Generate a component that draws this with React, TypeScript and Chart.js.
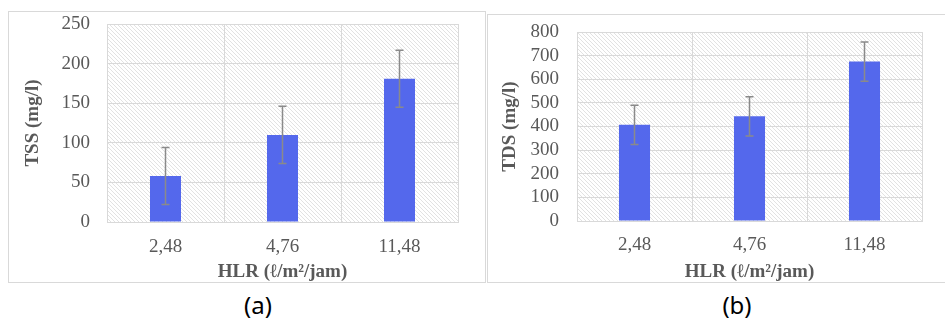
import React, { useEffect, useRef } from "react";
import { Chart, registerables } from "chart.js";

Chart.register(...registerables);

// Hydraulic loading rate categories
const categories = ["2,48", "4,76", "11,48"];

// Total suspended solids (mg/l) and their standard deviations
const tssValues = [58, 110, 181];
const tssErrors = [36, 36, 36];

// Total dissolved solids (mg/l) and their standard deviations
const tdsValues = [407, 443, 675];
const tdsErrors = [83, 83, 83];

const xTitle = "HLR (ℓ/m²/jam)";

const BAR_COLOR = "#5468EC";
const TEXT_COLOR = "#595959";
const GRID_COLOR = "#d9d9d9";
const SERIF = "'Liberation Serif', 'Times New Roman', serif";

// Fine diagonal hatching used as the plot-area fill
function makeHatch(ctx: CanvasRenderingContext2D): CanvasPattern | string {
  const tile = document.createElement("canvas");
  tile.width = 4;
  tile.height = 4;
  const t = tile.getContext("2d");
  if (!t) return "#f0f0f0";
  t.fillStyle = "#ffffff";
  t.fillRect(0, 0, 4, 4);
  t.strokeStyle = "#e2e2e2";
  t.lineWidth = 1;
  t.beginPath();
  t.moveTo(-1, -1);
  t.lineTo(5, 5);
  t.moveTo(-1, 3);
  t.lineTo(1, 5);
  t.moveTo(3, -1);
  t.lineTo(5, 1);
  t.stroke();
  return ctx.createPattern(tile, "repeat") || "#f0f0f0";
}

const hatchBackground = {
  id: "hatchBackground",
  beforeDraw(chart: any) {
    const { ctx, chartArea } = chart;
    if (!chartArea) return;
    ctx.save();
    ctx.fillStyle = makeHatch(ctx);
    ctx.fillRect(
      chartArea.left,
      chartArea.top,
      chartArea.right - chartArea.left,
      chartArea.bottom - chartArea.top
    );
    ctx.restore();
  },
};

// Vertical error bars with caps, drawn from each dataset's `errors` array
const errorBars = {
  id: "errorBars",
  afterDatasetsDraw(chart: any) {
    const { ctx } = chart;
    const yScale = chart.scales.y;
    chart.data.datasets.forEach((ds: any, i: number) => {
      const meta = chart.getDatasetMeta(i);
      const errs: number[] = ds.errors || [];
      meta.data.forEach((bar: any, j: number) => {
        const v = ds.data[j];
        const e = errs[j] || 0;
        const x = bar.x;
        const yTop = yScale.getPixelForValue(v + e);
        const yBot = yScale.getPixelForValue(v - e);
        ctx.save();
        ctx.strokeStyle = "#8a8a8a";
        ctx.lineWidth = 1.5;
        ctx.beginPath();
        ctx.moveTo(x, yTop);
        ctx.lineTo(x, yBot);
        ctx.moveTo(x - 4, yTop);
        ctx.lineTo(x + 4, yTop);
        ctx.moveTo(x - 4, yBot);
        ctx.lineTo(x + 4, yBot);
        ctx.stroke();
        ctx.restore();
      });
    });
  },
};

type PanelProps = {
  left: number;
  top: number;
  width: number;
  height: number;
  values: number[];
  errors: number[];
  yTitle: string;
  yMax: number;
  yStep: number;
  plotLeft: number;
  plotTop: number;
  plotRight: number;
  xAxisHeight: number;
  yTitleCenter: number;
  xTitleOffset: number;
  xTickPad: number;
  yTickPad: number;
  barFraction: number;
  border: string;
};

function Panel(p: PanelProps) {
  const ref = useRef<HTMLCanvasElement | null>(null);

  useEffect(() => {
    if (!ref.current) return;
    const tickFont = { family: SERIF, size: 19 };
    const titleFont = { family: SERIF, size: 19, weight: "bold" as const, lineHeight: 1.2 };
    const chart = new Chart(ref.current, {
      type: "bar",
      data: {
        labels: categories,
        datasets: [
          {
            data: p.values,
            errors: p.errors,
            backgroundColor: BAR_COLOR,
            borderWidth: 0,
            categoryPercentage: 1,
            barPercentage: p.barFraction,
          } as any,
        ],
      },
      options: {
        responsive: false,
        animation: false,
        devicePixelRatio: 1,
        layout: { padding: { left: 0, top: p.plotTop, right: p.width - p.plotRight, bottom: 0 } },
        plugins: {
          legend: { display: false },
          tooltip: { enabled: false },
        },
        scales: {
          x: {
            grid: { color: GRID_COLOR, drawTicks: false, offset: true },
            border: { color: GRID_COLOR },
            ticks: { color: TEXT_COLOR, font: tickFont, padding: p.xTickPad },
            title: {
              display: true,
              text: xTitle,
              color: TEXT_COLOR,
              font: titleFont,
              padding: { top: 0, bottom: p.xTitleOffset },
            },
            afterFit: (scale: any) => {
              scale.height = p.xAxisHeight;
              scale.paddingLeft = 0;
              scale.paddingRight = 0;
            },
          },
          y: {
            min: 0,
            max: p.yMax,
            grid: { color: GRID_COLOR, drawTicks: false },
            border: { color: GRID_COLOR },
            ticks: {
              color: TEXT_COLOR,
              font: tickFont,
              padding: p.yTickPad,
              stepSize: p.yStep,
              autoSkip: false,
            },
            title: {
              display: true,
              text: p.yTitle,
              color: TEXT_COLOR,
              font: titleFont,
              padding: { top: p.yTitleCenter - 11.4, bottom: 0 },
            },
            afterFit: (scale: any) => {
              scale.width = p.plotLeft;
              scale.paddingTop = 0;
              scale.paddingBottom = 0;
            },
          },
        },
      },
      plugins: [hatchBackground, errorBars],
    });
    return () => chart.destroy();
  }, []);

  return (
    <div
      style={{
        position: "absolute",
        left: p.left,
        top: p.top,
        width: p.width,
        height: p.height,
      }}
    >
      <canvas ref={ref} width={p.width} height={p.height} style={{ display: "block" }} />
      <div
        style={{
          position: "absolute",
          left: 0,
          top: 0,
          width: p.width,
          height: p.height,
          boxSizing: "border-box",
          border: p.border,
          pointerEvents: "none",
        }}
      />
    </div>
  );
}

const captionStyle: React.CSSProperties = {
  position: "absolute",
  top: 290,
  width: 60,
  textAlign: "center",
  fontFamily: "'Noto Sans', sans-serif",
  fontSize: 24,
  lineHeight: "30px",
  color: "#000",
};

export default function App() {
  return (
    <div
      style={{
        position: "absolute",
        left: 0,
        top: 0,
        width: 945,
        height: 320,
        background: "#fff",
        overflow: "hidden",
      }}
    >
      <Panel
        left={8}
        top={11}
        width={478}
        height={272}
        values={tssValues}
        errors={tssErrors}
        yTitle="TSS (mg/l)"
        yMax={250}
        yStep={50}
        plotLeft={99}
        plotTop={13}
        plotRight={450}
        xAxisHeight={61}
        yTitleCenter={25}
        xTitleOffset={0}
        xTickPad={14}
        yTickPad={17}
        barFraction={0.265}
        border={`1px solid ${GRID_COLOR}`}
      />
      <Panel
        left={487}
        top={14}
        width={470}
        height={269}
        values={tdsValues}
        errors={tdsErrors}
        yTitle="TDS (mg/l)"
        yMax={800}
        yStep={100}
        plotLeft={90}
        plotTop={18}
        plotRight={435}
        xAxisHeight={62}
        yTitleCenter={23}
        xTitleOffset={0}
        xTickPad={13}
        yTickPad={18}
        barFraction={0.27}
        border={`1px solid ${GRID_COLOR}`}
      />
      <div style={{ ...captionStyle, left: 228 }}>(a)</div>
      <div style={{ ...captionStyle, left: 707 }}>(b)</div>
    </div>
  );
}
